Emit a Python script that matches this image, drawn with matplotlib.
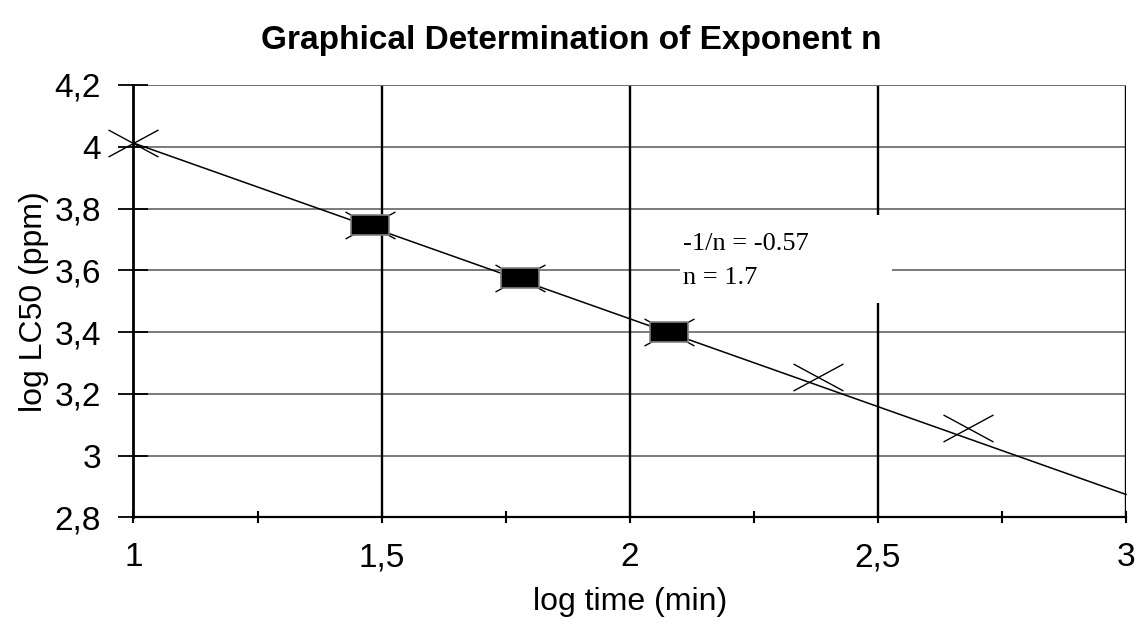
import numpy as np
import matplotlib
matplotlib.use("Agg")
import matplotlib.pyplot as plt
from matplotlib.path import Path
from matplotlib.patches import Rectangle

# measured points (log time, log LC50)
log_time = [1.0, 1.477, 1.778, 2.079, 2.380, 2.681]
log_lc50 = [4.012, 3.746, 3.574, 3.399, 3.254, 3.088]
# points highlighted with filled boxes
box_time = [1.477, 1.778, 2.079]
box_lc50 = [3.746, 3.574, 3.399]
# fitted line end points
fit_x = [1.0, 3.0]
fit_y = [4.012, 2.874]

x_ticks = [1, 1.5, 2, 2.5, 3]
x_labels = ["1", "1,5", "2", "2,5", "3"]
y_ticks = [2.8, 3.0, 3.2, 3.4, 3.6, 3.8, 4.0, 4.2]
y_labels = ["2,8", "3", "3,2", "3,4", "3,6", "3,8", "4", "4,2"]

plt.rcParams['font.family'] = ['Liberation Sans', 'DejaVu Sans']

fig = plt.figure(figsize=(11.36, 6.25), dpi=100)
ax = fig.add_axes([0.1175, 0.1723, 0.8737, 0.6917])

ax.set_xlim(1, 3)
ax.set_ylim(2.8, 4.2)

# grid
for yv in y_ticks[1:]:
    ax.axhline(yv, color='#707070', lw=1.3, zorder=1)
for xv in x_ticks[1:]:
    ax.axvline(xv, color='black', lw=1.7, zorder=1)

# stretched x marker and flat box marker
xmark = Path([(-1, -0.54), (1, 0.54), (-1, 0.54), (1, -0.54)],
             [Path.MOVETO, Path.LINETO, Path.MOVETO, Path.LINETO])
rmark = Path([(-1, -0.53), (1, -0.53), (1, 0.53), (-1, 0.53), (-1, -0.53)],
             [Path.MOVETO, Path.LINETO, Path.LINETO, Path.LINETO, Path.CLOSEPOLY])

ax.plot(fit_x, fit_y, color='black', lw=1.1, zorder=3, clip_on=False)
ax.plot(log_time, log_lc50, ls='none', marker=xmark, ms=36, mec='black',
        mew=1.0, zorder=4, clip_on=False)
ax.plot(box_time, box_lc50, ls='none', marker=rmark, ms=28, mfc='black',
        mec='#808080', mew=1.2, zorder=5)

# white box behind the annotation
ax.add_patch(Rectangle((0.5506, 0.4957), 0.2136, 0.2036, transform=ax.transAxes,
                       facecolor='white', edgecolor='none', zorder=2))
ax.text(2.107, 3.685, "-1/n = -0.57", family=['Liberation Serif'], fontsize=19,
        va='center', ha='left', zorder=6)
ax.text(2.107, 3.575, "n = 1.7", family=['Liberation Serif'], fontsize=19,
        va='center', ha='left', zorder=6)

for s in ['top', 'right']:
    ax.spines[s].set_visible(False)
ax.spines['left'].set_linewidth(2)
ax.spines['bottom'].set_linewidth(1.6)
ax.spines['left'].set_zorder(2)

ax.set_xticks(x_ticks)
ax.set_xticklabels(x_labels, fontsize=24)
ax.set_xticks([1.25, 1.75, 2.25, 2.75], minor=True)
ax.set_yticks(y_ticks)
ax.set_yticklabels(y_labels, fontsize=24)
ax.tick_params(axis='y', which='major', direction='inout', length=21, width=1.3, pad=13)
ax.tick_params(axis='x', which='major', direction='inout', length=8, width=1.5, pad=14)
ax.tick_params(axis='x', which='minor', direction='inout', length=8, width=1.5)
ax.axhline(4.2, color='#707070', lw=1.3, zorder=1)

ax.set_xlabel("log time (min)", fontsize=23, labelpad=10)
ax.set_ylabel("log LC50 (ppm)", fontsize=23, labelpad=4)
fig.suptitle("Graphical Determination of Exponent n", fontsize=24,
             fontweight='bold', x=0.503, y=0.96)

fig.savefig("out.png", dpi=100)
